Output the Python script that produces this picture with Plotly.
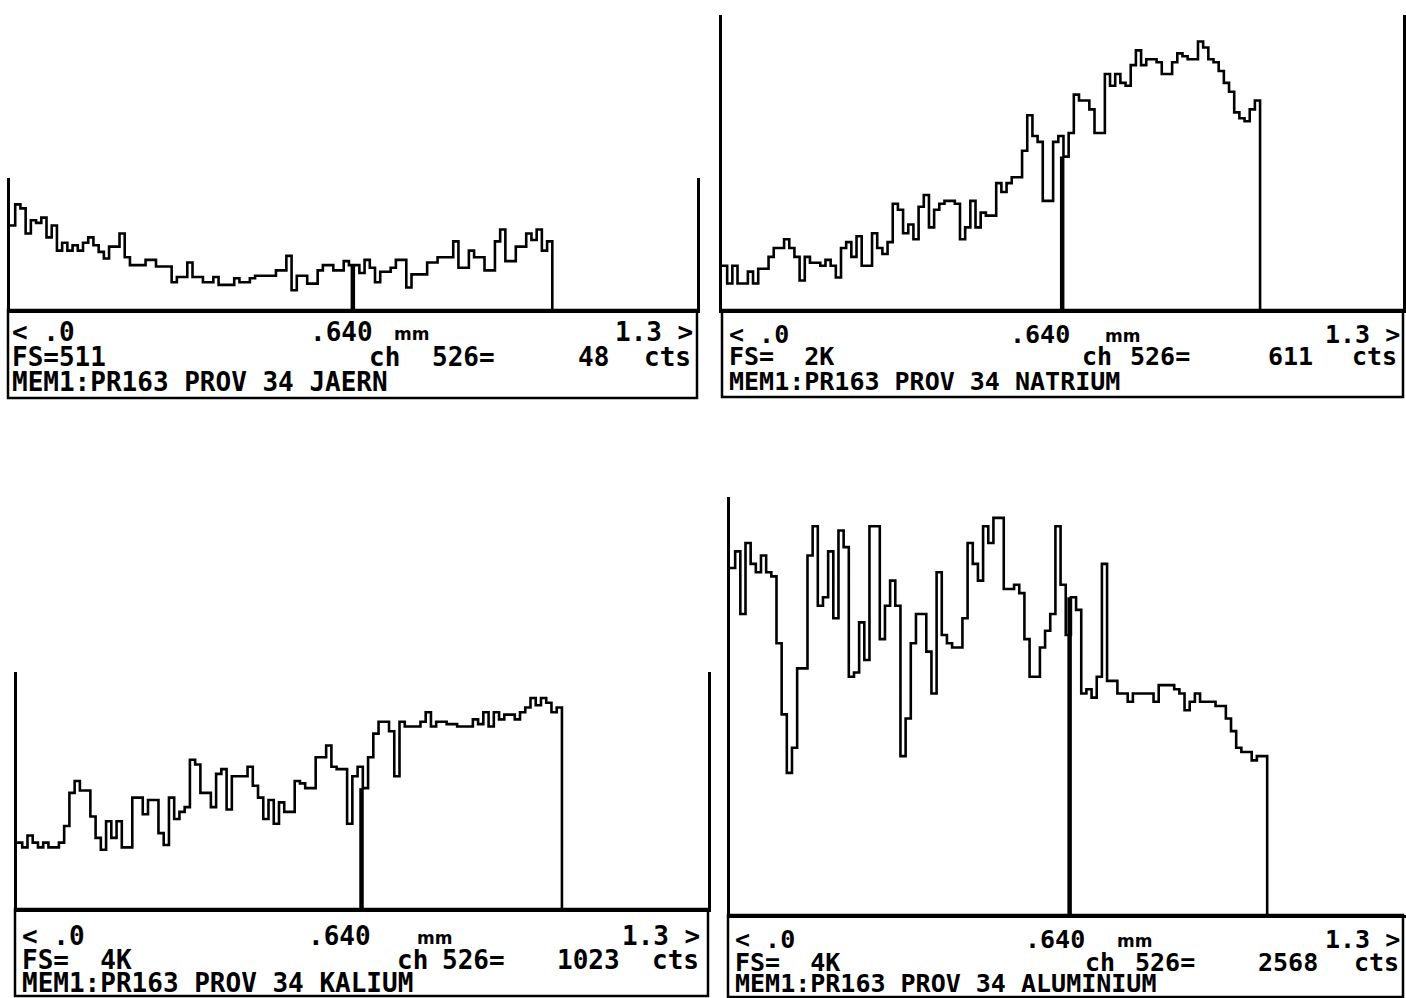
import plotly.graph_objects as go

W, H = 1406, 998
BIN = 8            # channels per histogram bin
CURSOR_CH = 526    # cursor channel ("ch 526=")

# Bin levels, in percent of full scale (FS), 104 bins of 8 channels each
jaern = [64, 80, 77, 58, 68, 66, 70, 55, 64, 45,
         51, 45, 49, 45, 51, 55, 49, 44, 39, 48,
         48, 58, 40, 34, 34, 34, 38, 38, 33, 33,
         33, 21, 25, 25, 36, 25, 25, 21, 21, 25,
         19, 19, 19, 24, 21, 21, 24, 26, 26, 26,
         26, 30, 30, 41, 15, 26, 26, 20, 20, 30,
         34, 34, 30, 30, 37, 34, 34, 28, 38, 32,
         21, 29, 29, 32, 38, 38, 17, 27, 27, 27,
         36, 36, 40, 40, 40, 52, 32, 32, 45, 40,
         40, 30, 30, 52, 61, 37, 37, 48, 48, 58,
         53, 61, 45, 52]

natrium = [15, 9, 15, 9, 9, 13, 9, 14, 14, 18,
           21, 21, 24, 21, 18, 10, 18, 16, 16, 15,
           17, 15, 11, 21, 23, 18, 25, 15, 15, 26,
           21, 19, 23, 36, 34, 26, 29, 24, 35, 39,
           28, 34, 36, 37, 37, 36, 24, 28, 37, 28,
           33, 32, 32, 43, 40, 43, 45, 45, 54, 66,
           59, 57, 37, 37, 57, 59, 52, 60, 73, 71,
           71, 68, 60, 60, 80, 76, 80, 77, 76, 83,
           88, 83, 85, 85, 84, 80, 80, 84, 87, 86,
           85, 85, 91, 89, 85, 84, 81, 77, 74, 67,
           65, 64, 68, 71]

kalium = [28, 26, 31, 28, 26, 28, 26, 26, 28, 35,
          49, 54, 50, 50, 39, 30, 25, 37, 30, 37,
          26, 26, 47, 47, 40, 46, 46, 32, 27, 47,
          38, 41, 43, 63, 61, 49, 49, 43, 57, 59,
          42, 56, 56, 56, 60, 52, 47, 38, 46, 36,
          45, 41, 41, 54, 53, 51, 51, 64, 64, 69,
          60, 59, 59, 36, 56, 60, 51, 64, 74, 79,
          79, 75, 56, 79, 77, 77, 77, 79, 83, 77,
          79, 79, 78, 78, 77, 77, 77, 80, 78, 83,
          77, 83, 80, 82, 82, 80, 83, 85, 89, 86,
          89, 87, 83, 85]

aluminium = [83, 87, 72, 89, 84, 82, 86, 82, 81, 65,
             48, 34, 40, 59, 59, 86, 93, 74, 76, 87,
             71, 92, 88, 57, 58, 70, 61, 93, 93, 66,
             74, 80, 74, 38, 47, 65, 72, 72, 63, 53,
             82, 67, 65, 64, 64, 71, 89, 84, 80, 93,
             89, 95, 95, 78, 78, 79, 77, 66, 57, 57,
             64, 68, 72, 93, 79, 67, 76, 73, 53, 54,
             52, 57, 84, 56, 56, 53, 53, 51, 53, 53,
             53, 53, 51, 55, 55, 55, 54, 53, 49, 51,
             53, 51, 51, 51, 50, 50, 47, 44, 40, 39,
             39, 37, 38, 38]

elements = ["JAERN", "NATRIUM", "KALIUM", "ALUMINIUM"]
full_scales = ["FS=511", "FS=  2K", "FS=  4K", "FS=  4K"]
cursor_counts = ["48", "611", "1023", "2568"]
series = [jaern, natrium, kalium, aluminium]

# ---- layout (pixel geometry of each panel) ----
panels = [
    dict(x0=10, x1=697, top=178, base=310, xmax=1054, mirror=True,
         box=(8, 310, 697, 398), l1=332, l2=357, l3=382, tx=10, fs=26,
         pos=dict(p640=308, mm=392, r13=695, ch=367, eq=430, val=576, cts=642)),
    dict(x0=722, x1=1403, top=15, base=310, xmax=1053, mirror=True,
         box=(722, 310, 1403, 397), l1=334, l2=357, l3=381, tx=727, fs=25,
         pos=dict(p640=1008, mm=1103, r13=1402, ch=1080, eq=1128, val=1266, cts=1350)),
    dict(x0=17, x1=708, top=672, base=909, xmax=1055, mirror=True,
         box=(15, 909, 708, 996), l1=936, l2=960, l3=983, tx=20, fs=26,
         pos=dict(p640=306, mm=415, r13=702, ch=395, eq=440, val=555, cts=650)),
    dict(x0=730, x1=1406, top=497, base=915, xmax=1047, mirror=False,
         box=(728, 915, 1403, 997), l1=939, l2=962, l3=983, tx=733, fs=25,
         pos=dict(p640=1023, mm=1115, r13=1402, ch=1083, eq=1133, val=1256, cts=1352)),
]

def fx(x):
    return x / W

def fy(y):
    return 1 - y / H

fig = go.Figure()
layout_axes = {}
shapes = []
annotations = []
FONT = "DejaVu Sans Mono"

for i, (p, vals) in enumerate(zip(panels, series)):
    n = i + 1
    xa = "x" if n == 1 else f"x{n}"
    ya = "y" if n == 1 else f"y{n}"
    end = len(vals) * BIN
    xs = [k * BIN for k in range(len(vals))] + [end, end]
    ys = list(vals) + [vals[-1], 0]
    fig.add_trace(go.Scatter(x=xs, y=ys, mode="lines", line=dict(color="black", width=2.6, shape="hv"),
                             xaxis=xa, yaxis=ya, showlegend=False, hoverinfo="skip"))
    cur_val = vals[int(round(CURSOR_CH / BIN))]
    fig.add_trace(go.Scatter(x=[CURSOR_CH, CURSOR_CH], y=[0, cur_val], mode="lines",
                             line=dict(color="black", width=4.5), xaxis=xa, yaxis=ya,
                             showlegend=False, hoverinfo="skip"))
    xkey = "xaxis" if n == 1 else f"xaxis{n}"
    ykey = "yaxis" if n == 1 else f"yaxis{n}"
    layout_axes[xkey] = dict(domain=[fx(p["x0"]), fx(p["x1"])], range=[0, p["xmax"]], anchor=ya,
                             showline=True, linecolor="black", linewidth=3, showgrid=False,
                             zeroline=False, showticklabels=False, ticks="")
    layout_axes[ykey] = dict(domain=[fy(p["base"]), fy(p["top"])], range=[0, 100], anchor=xa,
                             showline=True, mirror=p["mirror"], linecolor="black", linewidth=2.5,
                             showgrid=False, zeroline=False, showticklabels=False, ticks="")
    bx0, by0, bx1, by1 = p["box"]
    shapes.append(dict(type="rect", xref="paper", yref="paper", x0=fx(bx0), x1=fx(bx1),
                       y0=fy(by1), y1=fy(by0), line=dict(color="black", width=2.5)))

    size_main = p["fs"]

    def ann(text, x, y, anchor="left", size=None, family=FONT):
        annotations.append(dict(text=text, x=fx(x), y=fy(y), xref="paper", yref="paper",
                                xanchor=anchor, yanchor="middle", showarrow=False,
                                font=dict(family=family, size=size or size_main, color="black",
                                          weight="bold")))

    q = p["pos"]
    ann("< .0", p["tx"], p["l1"])
    ann(".640", q["p640"], p["l1"])
    ann("mm", q["mm"], p["l1"] + 2, size=17, family="DejaVu Sans")
    ann("1.3 >", q["r13"], p["l1"], anchor="right")
    ann(full_scales[i], p["tx"], p["l2"])
    ann("ch", q["ch"], p["l2"])
    ann(f"{CURSOR_CH}=", q["eq"], p["l2"])
    ann(cursor_counts[i], q["val"], p["l2"])
    ann("cts", q["cts"], p["l2"])
    ann(f"MEM1:PR163 PROV 34 {elements[i]}", p["tx"], p["l3"])

fig.update_layout(width=W, height=H, margin=dict(l=0, r=0, t=0, b=0),
                  paper_bgcolor="white", plot_bgcolor="white",
                  shapes=shapes, annotations=annotations, showlegend=False, **layout_axes)

fig.write_html("out.html", config={"displayModeBar": False},
               post_script="document.body.style.margin='0px';document.body.style.overflow='hidden';")
